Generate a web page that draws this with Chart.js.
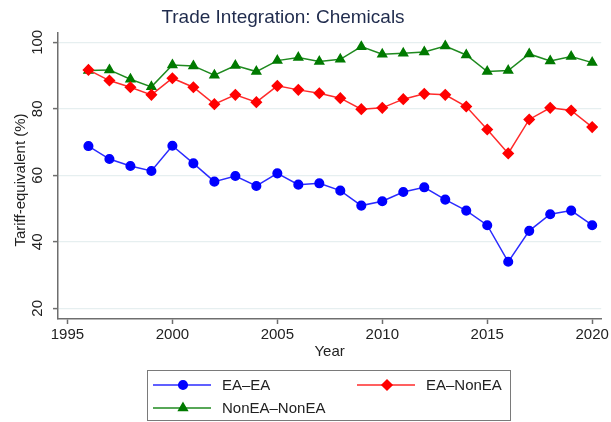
<!DOCTYPE html>
<html lang="en">
  <head>
    <meta charset="UTF-8" />
    <title>Trade Integration: Chemicals</title>
    <script src="https://cdn.jsdelivr.net/npm/chart.js@4/dist/chart.umd.min.js"></script>
    <style>
      body { margin: 0; background: #fff; }
      canvas { display: block; }
    </style>
  </head>
  <body>
    <canvas id="myChart" width="611" height="422"></canvas>
    <script>
      // Data
      const years = [1996, 1997, 1998, 1999, 2000, 2001, 2002, 2003, 2004, 2005, 2006, 2007, 2008,
        2009, 2010, 2011, 2012, 2013, 2014, 2015, 2016, 2017, 2018, 2019, 2020];
      const eaEa = [68.8, 64.9, 62.8, 61.3, 68.9, 63.6, 58.1, 59.8, 56.8, 60.6, 57.2, 57.6, 55.4,
        50.9, 52.2, 55.0, 56.4, 52.7, 49.4, 45.0, 34.0, 43.3, 48.3, 49.4, 45.0];
      const eaNonEa = [91.7, 88.5, 86.5, 84.2, 89.2, 86.5, 81.4, 84.2, 82.0, 86.9, 85.7, 84.7, 83.2,
        79.9, 80.3, 82.9, 84.5, 84.2, 80.7, 73.8, 66.6, 76.8, 80.3, 79.5, 74.5];
      const nonEaNonEa = [91.5, 91.7, 88.9, 86.6, 93.2, 92.9, 90.1, 93.0, 91.2, 94.5, 95.4, 94.2, 94.9,
        98.7, 96.4, 96.7, 97.1, 98.9, 96.2, 91.2, 91.5, 96.5, 94.4, 95.7, 93.9];
      const xTicks = [1995, 2000, 2005, 2010, 2015, 2020];
      const yTicks = [20, 40, 60, 80, 100];

      const FONT = "'Liberation Sans', Arial, sans-serif";
      const AXIS = "#6e6e6e";

      function points(values) {
        return years.map((y, i) => ({ x: y, y: values[i] }));
      }

      // title, rotated y labels and the boxed legend are drawn by hand
      const decorations = {
        id: "decorations",
        afterDraw(chart) {
          const ctx = chart.ctx;
          const yScale = chart.scales.y;
          ctx.save();

          ctx.fillStyle = "#1f2b4d";
          ctx.font = "19px " + FONT;
          ctx.textAlign = "center";
          ctx.textBaseline = "middle";
          ctx.fillText("Trade Integration: Chemicals", 283, 18);

          ctx.fillStyle = "#222";
          ctx.font = "15px " + FONT;
          yTicks.forEach((v) => {
            ctx.save();
            ctx.translate(38, yScale.getPixelForValue(v));
            ctx.rotate(-Math.PI / 2);
            ctx.fillText(String(v), 0, 0);
            ctx.restore();
          });
          ctx.save();
          ctx.translate(21, 180);
          ctx.rotate(-Math.PI / 2);
          ctx.fillText("Tariff-equivalent (%)", 0, 0);
          ctx.restore();

          // legend
          ctx.strokeStyle = "#7a7a7a";
          ctx.lineWidth = 1;
          ctx.strokeRect(147.5, 370.5, 363, 50);
          const slots = [
            { x: 153, y: 385 },
            { x: 357, y: 385 },
            { x: 153, y: 408 },
          ];
          ctx.textAlign = "left";
          chart.data.datasets.forEach((ds, i) => {
            const s = slots[i];
            ctx.strokeStyle = ds.borderColor;
            ctx.lineWidth = 1.5;
            ctx.beginPath();
            ctx.moveTo(s.x, s.y);
            ctx.lineTo(s.x + 58, s.y);
            ctx.stroke();
            ctx.fillStyle = ds.pointBackgroundColor;
            ctx.strokeStyle = ds.pointBackgroundColor;
            Chart.helpers.drawPoint(ctx, {
              pointStyle: ds.pointStyle,
              radius: ds.pointRadius,
              rotation: 0,
              borderWidth: 1,
            }, s.x + 30, s.y);
            ctx.fillStyle = "#222";
            ctx.fillText(ds.label, s.x + 69, s.y + 1);
          });
          ctx.restore();
        },
      };

      const ctx = document.getElementById("myChart").getContext("2d");
      const myChart = new Chart(ctx, {
        type: "line",
        data: {
          datasets: [
            {
              label: "EA–EA",
              data: points(eaEa),
              borderColor: "#2b2bff",
              pointBackgroundColor: "#0000ff",
              pointBorderColor: "#0000ff",
              pointStyle: "circle",
              pointRadius: 4.3,
              borderWidth: 1.5,
            },
            {
              label: "EA–NonEA",
              data: points(eaNonEa),
              borderColor: "#ff2b2b",
              pointBackgroundColor: "#ff0000",
              pointBorderColor: "#ff0000",
              pointStyle: "rectRot",
              pointRadius: 5,
              borderWidth: 1.5,
            },
            {
              label: "NonEA–NonEA",
              data: points(nonEaNonEa),
              borderColor: "#1f8a1f",
              pointBackgroundColor: "#007a00",
              pointBorderColor: "#007a00",
              pointStyle: "triangle",
              pointRadius: 5,
              borderWidth: 1.5,
            },
          ],
        },
        options: {
          responsive: false,
          animation: false,
          layout: { padding: { top: 33, right: 8, bottom: 58, left: 0 } },
          plugins: {
            legend: { display: false },
            tooltip: { enabled: false },
          },
          scales: {
            x: {
              type: "linear",
              min: 1994.55,
              max: 2020.43,
              afterBuildTicks: (scale) => {
                scale.ticks = xTicks.map((v) => ({ value: v }));
              },
              afterFit: (scale) => {
                scale.height = 45;
              },
              ticks: {
                color: "#222",
                font: { family: FONT, size: 15 },
                padding: 2,
                maxRotation: 0,
                callback: (v) => String(v),
              },
              grid: {
                drawOnChartArea: false,
                tickColor: AXIS,
                tickLength: 5,
                tickWidth: 1.5,
              },
              border: { color: AXIS, width: 1.5 },
              title: {
                display: true,
                text: "Year",
                color: "#222",
                font: { family: FONT, size: 15 },
                padding: { top: 0, bottom: 3 },
              },
            },
            y: {
              min: 16.8,
              max: 102.8,
              afterBuildTicks: (scale) => {
                scale.ticks = yTicks.map((v) => ({ value: v }));
              },
              afterFit: (scale) => {
                scale.width = 58;
              },
              ticks: { display: false },
              grid: {
                color: "#e6eff0",
                lineWidth: 1.2,
                tickColor: AXIS,
                tickLength: 5,
                tickWidth: 1.5,
              },
              border: { color: AXIS, width: 1.5 },
            },
          },
        },
        plugins: [decorations],
      });
    </script>
  </body>
</html>
